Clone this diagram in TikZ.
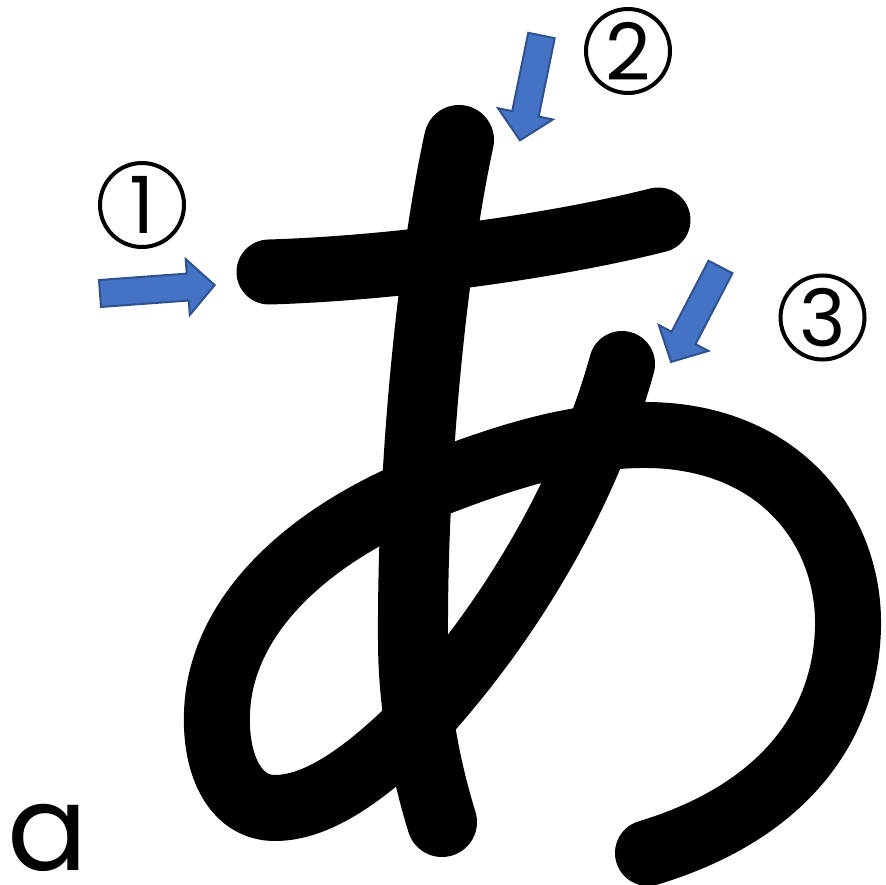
\documentclass[tikz,border=0pt]{standalone}
\usepackage{fontspec}
\setmainfont{Poppins}
\usetikzlibrary{positioning}
\definecolor{StrokeBlue}{RGB}{68,114,196}
\definecolor{StrokeEdge}{RGB}{47,82,143}

\begin{document}
\begin{tikzpicture}[x=1pt, y=-1pt, every node/.style={inner sep=0pt}]
\tikzset{
  kana/.style={line width=#1, line cap=round, line join=round},
  numcircle/.style={draw, circle, line width=4pt, minimum size=84pt,
    font=\fontsize{79}{79}\selectfont},
  arrowbody/.style={fill=StrokeBlue, draw=StrokeEdge, line width=2pt},
  pics/strokearrow/.style={code={
    \draw[arrowbody] (0,-13.5) -- (#1-27,-13.5) -- (#1-27,-28) -- (#1,0)
      -- (#1-27,28) -- (#1-27,13.5) -- (0,13.5) -- cycle;
  }}
}
  \useasboundingbox (0,0) rectangle (886,885);
  % stroke 1
  \draw[kana=65pt] (269,272) .. controls (400,268) and (560,245) .. (658,220);
  % stroke 2
  \draw[kana=70pt] (459,140) .. controls (435,250) and (412,450) .. (413,640)
    .. controls (413,720) and (432,790) .. (442,822);
  % stroke 3
  \draw[kana=66pt] (622,364) .. controls (590,480) and (520,610) .. (420,720)
    .. controls (370,770) and (320,808) .. (275,808)
    .. controls (235,808) and (215,765) .. (217,713)
    .. controls (220,620) and (300,540) .. (420,490)
    .. controls (500,458) and (570,436) .. (640,435)
    .. controls (780,433) and (850,530) .. (848,627)
    .. controls (846,720) and (790,810) .. (648,853);
  % order of strokes
  \pic[rotate=4.2] at (100,293.5) {strokearrow=115};
  \pic[rotate=-101.6] at (541.5,35.5) {strokearrow=107};
  \pic[rotate=-117.5] at (720.5,267) {strokearrow=107};
  \node[numcircle] (n1) at (142,205) {1};
  \node[numcircle] (n2) at (628,51) {2};
  \node[numcircle] (n3) at (822.5,317.5) {3};
  \node[font=\fontsize{119}{119}\selectfont, anchor=base west] (romaji) at (7,870) {a};
\end{tikzpicture}
\end{document}
